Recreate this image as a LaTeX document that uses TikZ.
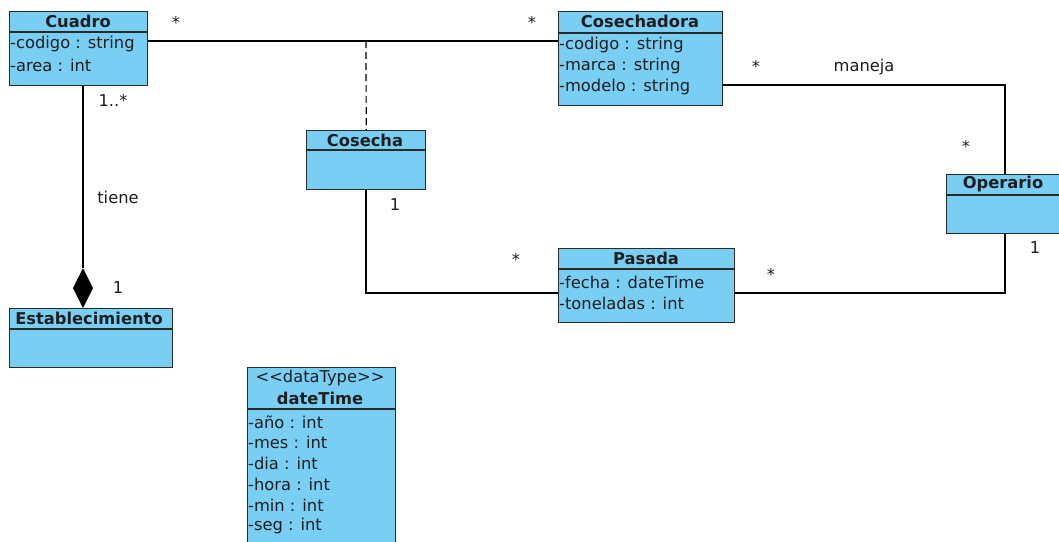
\documentclass[tikz,border=0pt]{standalone}
\usepackage{fontspec}
\setmainfont{DejaVu Sans}
\definecolor{umlfill}{HTML}{79CEF4}
\definecolor{umlline}{HTML}{2A2A2A}
\definecolor{umltext}{HTML}{1E1E1E}
\newcommand{\umlfont}{\fontsize{16.3}{19}\selectfont}
\tikzset{
  classbox/.style={draw=umlline, fill=umlfill, line width=1.4pt, anchor=north west, inner sep=0pt},
  ctitle/.style={font=\umlfont\bfseries, text=umltext, inner sep=0pt},
  cattr/.style={font=\umlfont, text=umltext, anchor=west, inner sep=0pt},
  mult/.style={font=\umlfont, text=umltext, inner sep=0pt},
  assoc/.style={draw=black, line width=1.2pt},
  sep/.style={draw=umlline, line width=1.4pt},
}
\begin{document}
\begin{tikzpicture}[x=1pt,y=-1pt]
\useasboundingbox (0,0) rectangle (1059,541);
\clip (0,0) rectangle (1059,541);
\fill[white] (0,0) rectangle (1059,541);

% ---------- class frames ----------
\node[classbox, minimum width=138pt, minimum height=74pt] (cuadro) at (9,11) {};
\node[classbox, minimum width=164pt, minimum height=94pt] (cosechadora) at (558,11) {};
\node[classbox, minimum width=119pt, minimum height=59pt] (cosecha) at (306,130) {};
\node[classbox, minimum width=118pt, minimum height=59pt] (operario) at (946,174) {};
\node[classbox, minimum width=176pt, minimum height=74pt] (pasada) at (558,248) {};
\node[classbox, minimum width=163pt, minimum height=59pt] (establecimiento) at (9,308) {};
\node[classbox, minimum width=148pt, minimum height=190pt] (datetime) at (247,367) {};

% ---------- connectors ----------
\coordinate (cosechaAnchor) at (366,41);

% Cuadro -- Cosechadora, with the association class Cosecha
\draw[assoc] (cuadro.east |- 0,41) -- (cosechadora.west |- 0,41);
\draw[assoc, dash pattern=on 7pt off 4pt] (cosechaAnchor) -- (cosecha.north);

% Cosechadora -- Operario
\draw[assoc] (cosechadora.east |- 0,85) -| (operario.north -| 1005,0);

% Cosecha -- Pasada
\draw[assoc] (cosecha.south -| 366,0) |- (pasada.west |- 0,293);

% Pasada -- Operario
\draw[assoc] (pasada.east |- 0,293) -| (operario.south -| 1005,0);

% Cuadro -- Establecimiento (composition)
\coordinate (diamondTop) at (83,268);
\draw[assoc] (cuadro.south -| 83,0) -- (diamondTop);
\fill[black] (diamondTop) -- (93,288) -- (establecimiento.north -| 83,0) -- (73,288) -- cycle;

% ---------- class contents ----------
% Cuadro
\draw[sep] (cuadro.west |- 0,32) -- (cuadro.east |- 0,32);
\node[ctitle] at (78,21) {Cuadro};
\node[cattr] at (10,44) {-codigo : string};
\node[cattr] at (10,65) {-area : int};

% Cosechadora
\draw[sep] (cosechadora.west |- 0,33) -- (cosechadora.east |- 0,33);
\node[ctitle] at (640,21) {Cosechadora};
\node[cattr] at (559,45) {-codigo : string};
\node[cattr] at (559,66) {-marca : string};
\node[cattr] at (559,87) {-modelo : string};

% Cosecha
\draw[sep] (cosecha.west |- 0,150) -- (cosecha.east |- 0,150);
\node[ctitle] at (365,140) {Cosecha};

% Operario
\draw[sep] (operario.west |- 0,195) -- (operario.east |- 0,195);
\node[ctitle] at (1003,184) {Operario};

% Pasada
\draw[sep] (pasada.west |- 0,269) -- (pasada.east |- 0,269);
\node[ctitle] at (646,258) {Pasada};
\node[cattr] at (559,282) {-fecha : dateTime};
\node[cattr] at (559,303) {-toneladas : int};

% Establecimiento
\draw[sep] (establecimiento.west |- 0,329) -- (establecimiento.east |- 0,329);
\node[ctitle] at (89,318) {Establecimiento};

% dateTime
\draw[sep] (datetime.west |- 0,409) -- (datetime.east |- 0,409);
\node[mult] at (320,378) {<{}<dataType>{}>};
\node[ctitle] at (320,398) {dateTime};
\node[cattr] at (248,422) {-año : int};
\node[cattr] at (248,442) {-mes : int};
\node[cattr] at (248,463) {-dia : int};
\node[cattr] at (248,484) {-hora : int};
\node[cattr] at (248,505) {-min : int};
\node[cattr] at (248,526) {-seg : int};

% ---------- multiplicities and association names ----------
\node[mult] at (176,22) {*};
\node[mult] at (532,22) {*};
\node[mult] at (756,66) {*};
\node[mult] at (864,67) {maneja};
\node[mult] at (966,146) {*};
\node[mult] at (395,205) {1};
\node[mult] at (516,259) {*};
\node[mult] at (771,274) {*};
\node[mult] at (1035,248) {1};
\node[mult] at (113,100) {1..*};
\node[mult] at (118,197) {tiene};
\node[mult] at (118,288) {1};
\end{tikzpicture}
\end{document}
